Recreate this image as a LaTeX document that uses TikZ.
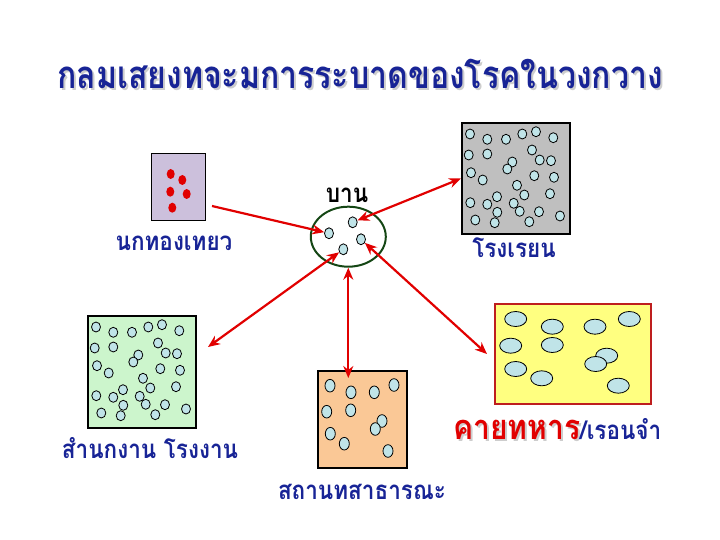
\documentclass[tikz,border=0pt]{standalone}
\usepackage{fontspec}
\newfontfamily\thaifont[Script=Thai]{Loma}
\usetikzlibrary{shapes.geometric,arrows.meta}

\definecolor{titleblue}{RGB}{24,36,150}
\definecolor{shade}{RGB}{205,205,205}
\definecolor{lilac}{RGB}{204,192,220}
\definecolor{germcol}{RGB}{192,228,232}
\definecolor{mint}{RGB}{204,245,204}
\definecolor{peach}{RGB}{250,200,150}
\definecolor{lemon}{RGB}{255,255,128}
\definecolor{brick}{RGB}{190,30,30}
\definecolor{pine}{RGB}{20,70,20}
\definecolor{alarm}{RGB}{225,0,0}

\tikzset{room/.style={draw,line width=2pt,fill=#1,inner sep=0pt,anchor=north west},room/.default={mint}}
\tikzset{germ/.style={draw,line width=0.8pt,fill=germcol,ellipse,inner sep=0pt,minimum width=9pt,minimum height=11pt}}
\tikzset{placename/.style={font=\thaifont\bfseries\fontsize{22.5}{26}\selectfont,text=#1,anchor=base,inner sep=0pt},placename/.default={titleblue}}
\tikzset{oneway/.style={draw=alarm,line width=2.2pt,-{Stealth[length=12pt,width=10pt]}}}
\tikzset{twoway/.style={oneway,{Stealth[length=12pt,width=10pt]}-{Stealth[length=12pt,width=10pt]}}}

\def\crowd{9/12,26.3/17.3,45/17.3,61.3/12,75/9.7,92.3/15.7,
7.7/33,26.3/32,71/28,78.7/38,90/38.7,51.3/40,46.3/47,
10/50.7,21.7/58,73.3/53.7,93/55.3,56/63.3,63.3/73,89/71.7,
9.3/80.7,26.3/82.3,36/74.7,52.7/81.3,36.3/90.3,58.7/89.3,78/89.7,99/94,
14.3/98,33.7/100.7,68.3/99.7}

\begin{document}
\begin{tikzpicture}[x=1pt,y=-1pt]
\useasboundingbox (0,0) rectangle (720,540);

\node [placename=shade,font=\thaifont\bfseries\fontsize{32}{36}\selectfont] (title-sh) at (362,91) {\scalebox{1}[1.2]{กลมเสยงทจะมการระบาดของโรคในวงกวาง}};
\node [placename,font=\thaifont\bfseries\fontsize{32}{36}\selectfont] (title) at (360,89) {\scalebox{1}[1.2]{กลมเสยงทจะมการระบาดของโรคในวงกวาง}};

\node [room=lilac,line width=1.2pt,minimum width=54pt,minimum height=67pt] (tourist) at (151,153) {};
\foreach \x/\y in {170.7/174,182.3/180,170.3/191.7,186.7/194,172.3/207.7}
  \fill [alarm] (\x,\y) ellipse (4 and 5);
\node [placename] (tourist-name) at (174,250) {\scalebox{1}[1.15]{นกทองเทยว}};

\node [draw=pine,line width=2pt,fill=white,ellipse,minimum width=75pt,minimum height=60pt] (home) at (348.3,236.7) {};
\node [germ] (h1) at (329,233.3) {};
\node [germ] (h2) at (352.7,222.3) {};
\node [germ] (h3) at (361,239.3) {};
\node [germ] (h4) at (343.3,249.3) {};
\node [placename=black] (home-name) at (347,203) {\scalebox{1}[1.15]{บาน}};

\node [room=black!25,minimum width=108pt,minimum height=111pt] (school) at (461,122) {};
\begin{scope}[shift={(school.north west)}]
\foreach \x/\y in \crowd
  \draw [fill=germcol,line width=0.8pt] (\x,\y) ellipse (4.5 and 5);
\end{scope}
\node [placename] (school-name) at (514,258) {\scalebox{1}[1.15]{โรงเรยน}};

\node [room=mint,minimum width=108pt,minimum height=112pt] (office) at (87,315) {};
\begin{scope}[shift={(office.north west)}]
\foreach \x/\y in \crowd
  \draw [fill=germcol,line width=0.8pt] (\x,\y) ellipse (4.5 and 5);
\end{scope}
\node [placename] (office-name) at (150,458) {\scalebox{1}[1.15]{สำนกงาน โรงงาน}};

\node [room=peach,minimum width=89pt,minimum height=97pt] (public) at (317,370) {};
\foreach \x/\y in {330/385.7,351/392.3,374.3/392.3,394/385,326.7/411.7,350.7/410.3,
  382/421,375.3/429,330.3/433.7,344.3/443.7,388/451}
  \draw [fill=germcol,line width=0.8pt] (\x,\y) ellipse (5 and 6.3);
\node [placename] (public-name) at (362,499) {\scalebox{1}[1.15]{สถานทสาธารณะ}};

\node [room=lemon,draw=brick,minimum width=156pt,minimum height=100pt] (camp) at (494,303) {};
\foreach \x/\y in {515.7/319,552.3/326.7,595/326.7,629.3/319,510.7/345.7,552.3/345,
  606.7/355.7,595.7/364,515.7/369,541.7/378.3,618.3/385.7}
  \draw [fill=germcol,line width=0.8pt] (\x,\y) ellipse (11 and 7.5);
\node [placename=shade,anchor=base west] (camp-sh) at (455,441) {\scalebox{1}[1.15]{\fontsize{30}{34}\selectfont คายทหาร}};
\node [placename,anchor=base west] (camp-name) at (453,439) {\scalebox{1}[1.15]{{\color{alarm}\fontsize{30}{34}\selectfont คายทหาร}/เรอนจำ}};

\coordinate (tourist-out) at (212,206);
\coordinate (office-in) at (208,347);
\draw [oneway] (tourist-out) -- (h1);
\draw [twoway] (h2) -- (school.west);
\draw [twoway] (h3) -- ([xshift=-7pt]camp.west);
\draw [twoway] (h4) -- (office-in);
\draw [twoway] (home.south) -- ([yshift=-8pt]home.south |- public.north);
\end{tikzpicture}
\end{document}
